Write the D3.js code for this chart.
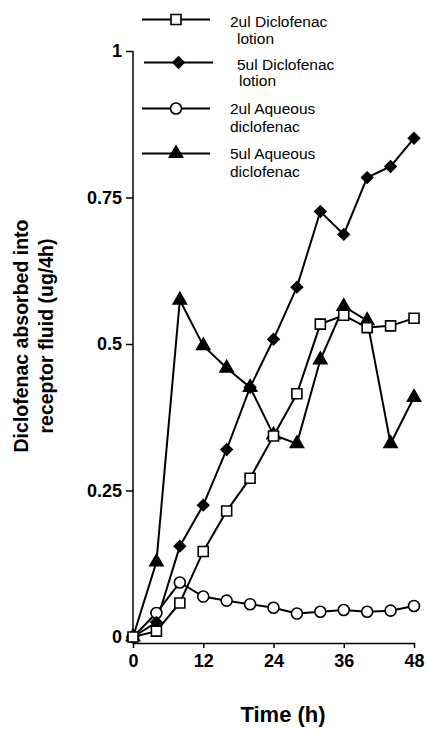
<!DOCTYPE html>
<html>
<head>
<meta charset="utf-8">
<script src="https://cdn.jsdelivr.net/npm/d3@7/dist/d3.min.js"></script>
<style>
  html, body { margin: 0; padding: 0; background: #fff; }
  svg { display: block; font-family: "Liberation Sans", Arial, Helvetica, sans-serif; }
</style>
</head>
<body>
<svg id="chart" width="427" height="731"></svg>
<script>
// ---- data ----
const times = [0, 4, 8, 12, 16, 20, 24, 28, 32, 36, 40, 44, 48];
const lotion2 = [0, 0.01, 0.058, 0.146, 0.215, 0.271, 0.343, 0.415, 0.534, 0.549, 0.528, 0.531, 0.544];
const lotion5 = [0, 0.025, 0.155, 0.225, 0.32, 0.426, 0.508, 0.597, 0.726, 0.687, 0.784, 0.803, 0.851];
const aqueous2 = [0, 0.041, 0.093, 0.069, 0.062, 0.056, 0.05, 0.04, 0.043, 0.046, 0.043, 0.045, 0.053];
const aqueous5 = [0, 0.128, 0.575, 0.497, 0.459, 0.426, 0.345, 0.33, 0.473, 0.564, 0.54, 0.33, 0.409];
const seriesNames = ["2ul Diclofenac lotion", "5ul Diclofenac lotion", "2ul Aqueous diclofenac", "5ul Aqueous diclofenac"];
const legendLines = [["2ul Diclofenac", "lotion"], ["5ul Diclofenac", "lotion"], ["2ul Aqueous", "diclofenac"], ["5ul Aqueous", "diclofenac"]];
const xTicks = [0, 12, 24, 36, 48];
const yTicks = [0, 0.25, 0.5, 0.75, 1];
const yTickLabels = ["0", "0.25", "0.5", "0.75", "1"];
const xTitle = "Time (h)";
const yTitleLines = ["Diclofenac absorbed into", "receptor fluid (ug/4h)"];

// ---- layout ----
const svg = d3.select("#chart");
const x = d3.scaleLinear().domain([0, 48]).range([133, 414]);
const y = d3.scaleLinear().domain([0, 1]).range([637, 51]);
const xAxisY = 643;

// axes
const yAxis = d3.axisLeft(y).tickValues(yTicks)
  .tickFormat((d, i) => yTickLabels[i]).tickSize(7).tickSizeOuter(0).tickPadding(4);
const gy = svg.append("g").attr("transform", `translate(${x(0)},0)`).call(yAxis);
gy.select(".domain").remove();
gy.selectAll(".tick line").attr("stroke", "#000").attr("stroke-width", 1.5);
gy.selectAll(".tick text").attr("font-size", 18).attr("font-weight", "bold").attr("fill", "#000")
  .attr("font-family", "'Liberation Sans', Arial, sans-serif");
svg.append("line").attr("x1", x(0)).attr("x2", x(0)).attr("y1", y(1)).attr("y2", xAxisY)
  .attr("stroke", "#000").attr("stroke-width", 1.5);

const xAxis = d3.axisBottom(x).tickValues(xTicks).tickFormat(d3.format("d"))
  .tickSize(5).tickSizeOuter(0).tickPadding(6);
const gx = svg.append("g").attr("transform", `translate(0,${xAxisY})`).call(xAxis);
gx.select(".domain").attr("stroke", "#000").attr("stroke-width", 1.5);
gx.selectAll(".tick line").attr("stroke", "#000").attr("stroke-width", 1.5);
gx.selectAll(".tick text").attr("font-size", 18).attr("font-weight", "bold").attr("fill", "#000")
  .attr("font-family", "'Liberation Sans', Arial, sans-serif");

// titles
svg.append("text").attr("x", 283).attr("y", 722).attr("text-anchor", "middle")
  .attr("font-size", 22).attr("font-weight", "bold").text(xTitle);
const yt = svg.append("text").attr("transform", "translate(0,336) rotate(-90)")
  .attr("text-anchor", "middle").attr("font-size", 19.5).attr("font-weight", "bold");
yt.append("tspan").attr("x", 0).attr("y", 28).text(yTitleLines[0]);
yt.append("tspan").attr("x", 0).attr("y", 53).text(yTitleLines[1]);

// markers
const markerDefs = [
  { type: d3.symbolSquare, size: 100, fill: "#fff", rot: 0 },
  { type: d3.symbolSquare, size: 62, fill: "#000", rot: 45 },
  { type: d3.symbolCircle, size: 95, fill: "#fff", rot: 0 },
  { type: d3.symbolTriangle, size: 75, fill: "#000", rot: 0 }
];
const allSeries = [lotion2, lotion5, aqueous2, aqueous5];
const line = d3.line().x((d, i) => x(times[i])).y(d => y(d));

const drawOrder = [3, 2, 1, 0];
drawOrder.forEach(si => {
  svg.append("path").datum(allSeries[si]).attr("d", line)
    .attr("fill", "none").attr("stroke", "#000").attr("stroke-width", 2);
});
drawOrder.forEach(si => {
  const m = markerDefs[si];
  svg.append("g").selectAll("path").data(allSeries[si]).join("path")
    .attr("transform", (d, i) => `translate(${x(times[i])},${y(d)}) rotate(${m.rot})`)
    .attr("d", d3.symbol().type(m.type).size(m.size))
    .attr("fill", m.fill).attr("stroke", "#000").attr("stroke-width", 1.6);
});

// legend
const legRowsY = [19.5, 62.5, 108.5, 153.5];
const legLineX = [[142, 210], [144, 213], [142, 210], [142, 210]];
const legTextX = [[230, 237], [237, 239], [230, 230], [230, 230]];
const legBase = [[27, 43.5], [69.5, 86], [113.5, 131.5], [159, 176.5]];
legendLines.forEach((lines, i) => {
  const g = svg.append("g");
  g.append("line").attr("x1", legLineX[i][0]).attr("x2", legLineX[i][1])
    .attr("y1", legRowsY[i]).attr("y2", legRowsY[i]).attr("stroke", "#000").attr("stroke-width", 1.8);
  const m = markerDefs[i];
  g.append("path").attr("transform", `translate(${(legLineX[i][0] + legLineX[i][1]) / 2},${legRowsY[i]}) rotate(${m.rot})`)
    .attr("d", d3.symbol().type(m.type).size(m.size))
    .attr("fill", m.fill).attr("stroke", "#000").attr("stroke-width", 1.6);
  lines.forEach((t, j) => {
    g.append("text").attr("x", legTextX[i][j]).attr("y", legBase[i][j])
      .attr("font-size", 15.5).attr("fill", "#000").text(t);
  });
});
</script>
</body>
</html>
